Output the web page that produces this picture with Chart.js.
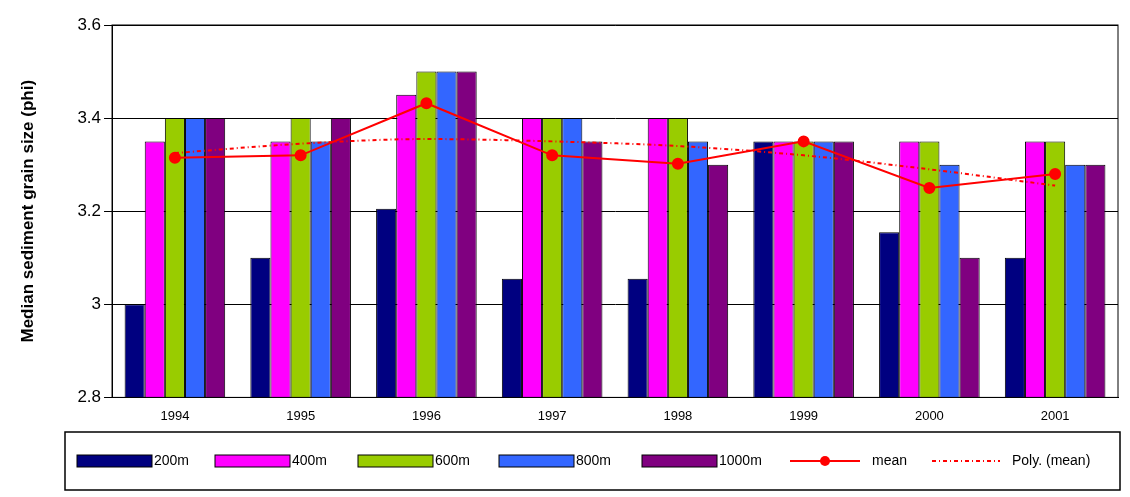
<!DOCTYPE html>
<html><head><meta charset="utf-8">
<script src="https://cdn.jsdelivr.net/npm/chart.js@4"></script>
<style>html,body{margin:0;padding:0;background:#fff}</style>
</head><body><canvas id="c" width="1130" height="497"></canvas>
<script>
const years=['1994','1995','1996','1997','1998','1999','2000','2001'];
const d200=[3.0,3.1,3.205,3.055,3.055,3.35,3.155,3.1];
const d400=[3.35,3.35,3.45,3.4,3.4,3.35,3.35,3.35];
const d600=[3.4,3.4,3.5,3.4,3.4,3.35,3.35,3.35];
const d800=[3.4,3.35,3.5,3.4,3.35,3.35,3.3,3.3];
const d1000=[3.4,3.4,3.5,3.35,3.3,3.35,3.1,3.3];
const meanV=[3.315,3.32,3.432,3.32,3.302,3.35,3.25,3.28];
const polyV=[3.325,3.345,3.355,3.35,3.34,3.32,3.29,3.255];
const bar=(l,d,c)=>({type:'bar',label:l,data:d,backgroundColor:c,borderColor:'#000',borderWidth:1,categoryPercentage:0.8,barPercentage:1,order:2});
const legendBox={id:'lb',afterDraw(ch){
  const ctx=ch.ctx;const top=432,bot=490,left=65,right=1120;
  ctx.save();ctx.strokeStyle='#000';ctx.lineWidth=1.5;ctx.strokeRect(left,top,right-left,bot-top);
  ctx.font='14px Arial, "Liberation Sans"';ctx.textBaseline='middle';ctx.fillStyle='#000';
  const y=461;let xs=[77,215,358,499,642];
  ch.data.datasets.slice(0,5).forEach((ds,i)=>{ctx.fillStyle=ds.backgroundColor;ctx.fillRect(xs[i],y-6,75,12);ctx.strokeStyle='#000';ctx.lineWidth=1;ctx.strokeRect(xs[i],y-6,75,12);ctx.fillStyle='#000';ctx.fillText(ds.label,xs[i]+77,y);});
  ctx.strokeStyle='#f00';ctx.lineWidth=2;ctx.beginPath();ctx.moveTo(790,y);ctx.lineTo(860,y);ctx.stroke();
  ctx.fillStyle='#f00';ctx.beginPath();ctx.arc(825,y,5,0,7);ctx.fill();ctx.fillStyle='#000';ctx.fillText('mean',872,y);
  ctx.setLineDash([4,3,1,3]);ctx.strokeStyle='#f00';ctx.beginPath();ctx.moveTo(932,y);ctx.lineTo(1000,y);ctx.stroke();ctx.setLineDash([]);
  ctx.fillText('Poly. (mean)',1012,y);ctx.restore();
}};
const borderPl={id:'bp',afterDatasetsDraw(ch){const a=ch.chartArea,c=ch.ctx;c.save();c.strokeStyle='#000';c.lineWidth=1;c.strokeRect(a.left,a.top,a.right-a.left,a.bottom-a.top);c.restore();}};
new Chart(document.getElementById('c'),{type:'bar',
data:{labels:years,datasets:[
bar('200m',d200,'#000080'),bar('400m',d400,'#ff00ff'),bar('600m',d600,'#99cc00'),bar('800m',d800,'#3366ff'),bar('1000m',d1000,'#800080'),
{type:'line',label:'mean',data:meanV,borderColor:'#ff0000',backgroundColor:'#ff0000',borderWidth:2,pointRadius:5,pointBackgroundColor:'#ff0000',order:0},
{type:'line',label:'Poly. (mean)',data:polyV,borderColor:'#ff0000',borderWidth:2,borderDash:[4,3,1,3],pointRadius:0,cubicInterpolationMode:'monotone',order:1}
]},
options:{responsive:false,animation:false,devicePixelRatio:1,
layout:{padding:{top:25,right:12,bottom:70,left:18}},
plugins:{legend:{display:false},tooltip:{enabled:false}},
scales:{x:{grid:{display:false},border:{color:'#000'},ticks:{color:'#000',font:{family:'Arial, "Liberation Sans"',size:13}}},
y:{min:2.8,max:3.6,ticks:{stepSize:0.2,color:'#000',font:{family:'Arial, "Liberation Sans"',size:17},callback:v=>String(Math.round(v*10)/10)},
grid:{color:'#000',drawTicks:true},border:{color:'#000'},
title:{display:true,text:'Median sediment grain size (phi)',color:'#000',padding:{top:0,bottom:36},font:{family:'Arial, "Liberation Sans"',size:17,weight:'bold'}}}}},
plugins:[legendBox,borderPl]});
</script>
</body></html>
